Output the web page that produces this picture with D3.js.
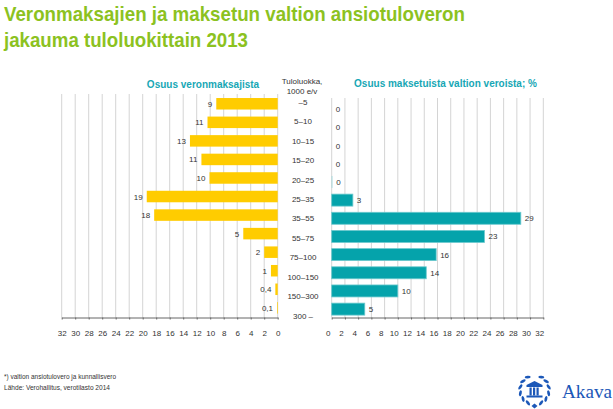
<!DOCTYPE html>
<html><head><meta charset="utf-8">
<script src="https://cdn.jsdelivr.net/npm/d3@7"></script>
<style>
html,body{margin:0;padding:0;background:#fff;}
svg{display:block;font-family:"Liberation Sans",Arial,Helvetica,sans-serif;}
</style></head>
<body>
<svg id="chart" width="613" height="409"></svg>
<script>
// ---- data ----
const categories = ["–5","5–10","10–15","15–20","20–25","25–35","35–55","55–75","75–100","100–150","150–300","300 –"];
const payerShare = [9.1, 10.4, 13.0, 11.3, 10.1, 19.4, 18.3, 5.1, 2.0, 1.0, 0.35, 0.1];
const payerLabels = ["9","11","13","11","10","19","18","5","2","1","0,4","0,1"];
const taxShare = [0, 0, 0, 0, 0.1, 3.2, 28.6, 23.1, 15.8, 14.3, 10.0, 5.0];
const taxLabels = ["0","0","0","0","0","3","29","23","16","14","10","5"];
const tickValues = [0,2,4,6,8,10,12,14,16,18,20,22,24,26,28,30,32];
const titleLines = ["Veronmaksajien ja maksetun valtion ansiotuloveron","jakauma tuloluokittain 2013"];
const leftTitle = "Osuus veronmaksajista";
const rightTitle = "Osuus maksetuista valtion veroista; %";
const classHeader = ["Tuloluokka,","1000 e/v"];
const footnotes = ["*) valtion ansiotulovero ja kunnallisvero","Lähde: Verohallitus, verotilasto 2014"];

const svg = d3.select("#chart");
const GREEN = "#8cc21f", TEAL = "#17a7b5", YELLOW = "#ffcc00", BAR_TEAL = "#05a3ab";

// ---- title ----
svg.append("text").attr("x",4).attr("y",21).attr("fill",GREEN)
  .attr("font-size",21).attr("font-weight","bold")
  .attr("textLength",461).attr("lengthAdjust","spacingAndGlyphs").text(titleLines[0]);
svg.append("text").attr("x",4).attr("y",47).attr("fill",GREEN)
  .attr("font-size",21).attr("font-weight","bold")
  .attr("textLength",244).attr("lengthAdjust","spacingAndGlyphs").text(titleLines[1]);

// ---- scales ----
const xL = d3.scaleLinear().domain([0,32]).range([277.7, 61.7]);
const xR = d3.scaleLinear().domain([0,32]).range([331.7, 543.3]);
const yL = d3.scaleBand().domain(categories).range([94.5, 317.1]).paddingInner(0.38).paddingOuter(0.19);
const yR = d3.scaleBand().domain(categories).range([100.2, 318.2]).paddingInner(0.34).paddingOuter(0.17);
const yC = d3.scalePoint().domain(categories).range([101.7, 315.7]);
const axisY = 317.5;

// ---- grids ----
svg.append("g").selectAll("line").data(tickValues).join("line")
  .attr("x1",d=>xL(d)).attr("x2",d=>xL(d)).attr("y1",94).attr("y2",axisY)
  .attr("stroke","#d4d4d4").attr("stroke-width",1);
svg.append("g").selectAll("line").data(tickValues).join("line")
  .attr("x1",d=>xR(d)).attr("x2",d=>xR(d)).attr("y1",98).attr("y2",axisY)
  .attr("stroke","#d4d4d4").attr("stroke-width",1);

// ---- bars ----
svg.append("g").selectAll("rect").data(payerShare).join("rect")
  .attr("x",d=>xL(d)).attr("width",d=>xL(0)-xL(d))
  .attr("y",(d,i)=>yL(categories[i])).attr("height",yL.bandwidth())
  .attr("fill",YELLOW);
svg.append("g").selectAll("rect").data(taxShare).join("rect")
  .attr("x",xR(0)).attr("width",d=>xR(d)-xR(0))
  .attr("y",(d,i)=>yR(categories[i])).attr("height",yR.bandwidth())
  .attr("fill",d=>d>=1?BAR_TEAL:"#8fd6da").attr("stroke",d=>d>=1?"#6cc9ce":"none").attr("stroke-width",0.8);

// ---- value labels ----
svg.append("g").selectAll("text").data(payerShare).join("text")
  .attr("x",d=>xL(d)-4).attr("y",(d,i)=>yL(categories[i])+yL.bandwidth()/2+3)
  .attr("text-anchor","end").attr("font-size",8).attr("fill","#333")
  .text((d,i)=>payerLabels[i]);
svg.append("g").selectAll("text").data(taxShare).join("text")
  .attr("x",d=>xR(d)+4).attr("y",(d,i)=>yR(categories[i])+yR.bandwidth()/2+3)
  .attr("text-anchor","start").attr("font-size",8).attr("fill","#333")
  .text((d,i)=>taxLabels[i]);

// ---- axes ----
function styleAxis(g, dx){
  g.select(".domain").attr("stroke","#666").attr("stroke-width",1);
  g.selectAll(".tick line").attr("stroke","#666");
  g.selectAll(".tick text").attr("font-size",8).attr("fill","#333")
   .attr("font-family","Liberation Sans, Arial, sans-serif").attr("dy","1.1em").attr("dx",dx);
}
svg.append("g").attr("transform",`translate(0,${axisY})`)
  .call(d3.axisBottom(xL).tickValues(tickValues).tickSize(2).tickSizeOuter(0).tickPadding(8))
  .call(g=>styleAxis(g,0));
svg.append("g").attr("transform",`translate(0,${axisY})`)
  .call(d3.axisBottom(xR).tickValues(tickValues).tickSize(2).tickSizeOuter(0).tickPadding(8))
  .call(g=>styleAxis(g,-4));

// ---- category labels ----
svg.append("g").selectAll("text").data(categories).join("text")
  .attr("x",303).attr("y",d=>yC(d)+3).attr("text-anchor","middle")
  .attr("font-size",8).attr("fill","#333").text(d=>d);
svg.append("g").selectAll("text").data(classHeader).join("text")
  .attr("x",302).attr("y",(d,i)=>84+i*9.5).attr("text-anchor","middle")
  .attr("font-size",8).attr("fill","#333").text(d=>d);

// ---- panel titles ----
svg.append("text").attr("x",203).attr("y",88).attr("text-anchor","middle")
  .attr("font-size",10).attr("font-weight","bold").attr("fill",TEAL).text(leftTitle);
svg.append("text").attr("x",445.5).attr("y",87).attr("text-anchor","middle")
  .attr("font-size",10).attr("font-weight","bold").attr("fill",TEAL).text(rightTitle);

// ---- footnotes ----
svg.append("g").selectAll("text").data(footnotes).join("text")
  .attr("x",4).attr("y",(d,i)=>379+i*10.5).attr("font-size",7).attr("fill","#333")
  .attr("textLength",(d,i)=>i===0?112:106).attr("lengthAdjust","spacingAndGlyphs").text(d=>d);

// ---- Akava logo ----
const BLUE = "#1c58b8";
const logo = svg.append("g").attr("transform","translate(534.5,390)");
const R = 14.5;
[118,143,168,193,218,243].forEach(a=>{
  [a, 180 - a].forEach(b=>{
    const rad = b*Math.PI/180;
    const cx = R*Math.cos(rad), cy = -R*Math.sin(rad);
    const tilt = (b>90 && b<270) ? 25 : -25;
    logo.append("ellipse").attr("cx",cx).attr("cy",cy).attr("rx",3.0).attr("ry",1.4)
      .attr("transform",`rotate(${-b+90+tilt},${cx},${cy})`).attr("fill",BLUE);
  });
});
logo.append("path").attr("d","M-3,16 L0,13.5 L3,16 L0,18.5 Z").attr("fill",BLUE);
logo.append("path").attr("d","M-8,-5 L0,-9 L8,-5 Z").attr("fill",BLUE);
logo.append("rect").attr("x",-8).attr("y",-5).attr("width",16).attr("height",2).attr("fill",BLUE);
[-5,-1.5,2].forEach(px=>logo.append("rect").attr("x",px).attr("y",-2.5).attr("width",2.2).attr("height",8).attr("fill",BLUE));
logo.append("rect").attr("x",-8).attr("y",5.5).attr("width",16).attr("height",2).attr("fill",BLUE);
svg.append("text").attr("x",562).attr("y",398).attr("font-family","Liberation Serif, DejaVu Serif, serif")
  .attr("font-size",18).attr("fill",BLUE).attr("textLength",50).attr("lengthAdjust","spacingAndGlyphs").text("Akava");
</script>
</body></html>
